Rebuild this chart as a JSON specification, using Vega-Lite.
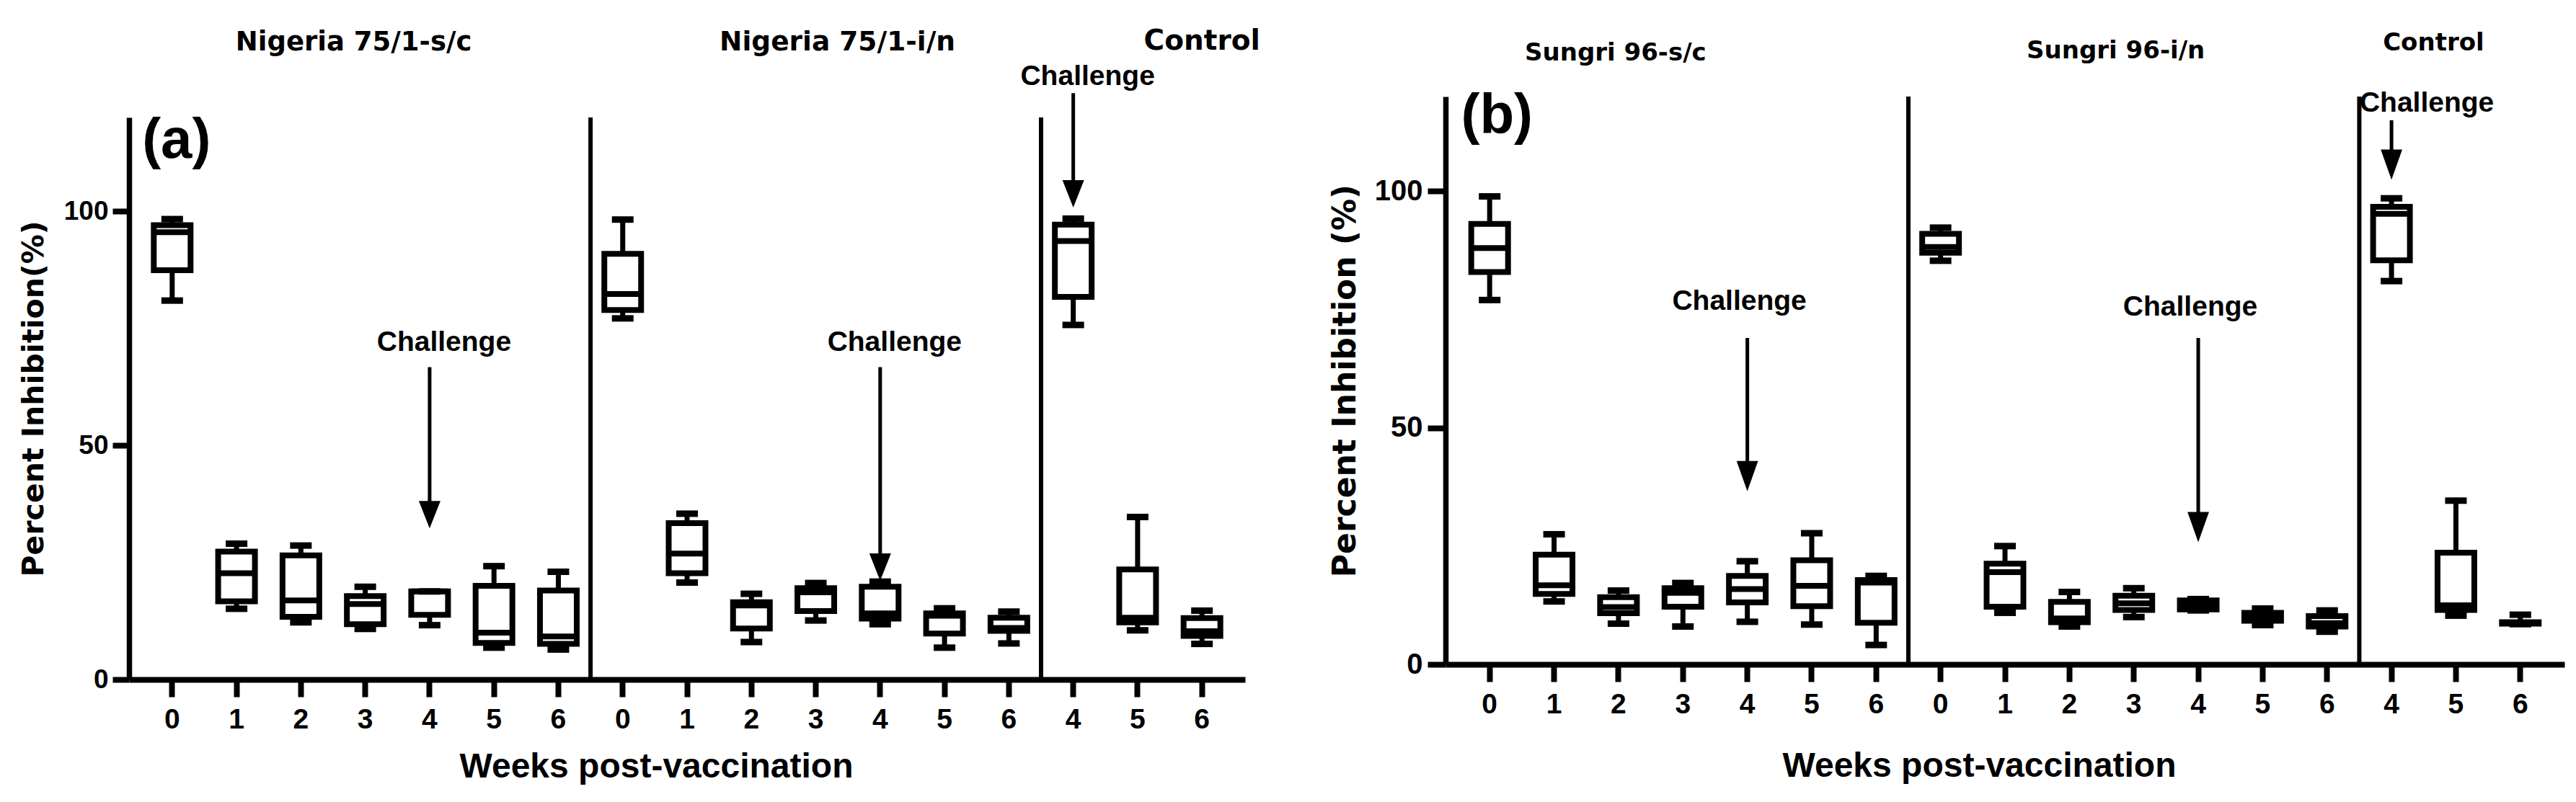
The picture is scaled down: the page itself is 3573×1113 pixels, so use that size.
{
  "$schema": "https://vega.github.io/schema/vega-lite/v6.json",
  "background": "white",
  "padding": {"left": 26, "top": 38, "right": 10, "bottom": 10},
  "config": {"view": {"stroke": null}, "font": "Liberation Sans"},
  "datasets": {
    "boxA": [
      {"key": "sc0", "min": 80.9, "q1": 87.4, "med": 95.5, "q3": 97.0, "max": 98.3},
      {"key": "sc1", "min": 15.1, "q1": 16.7, "med": 22.7, "q3": 27.3, "max": 29.0},
      {"key": "sc2", "min": 12.2, "q1": 13.4, "med": 16.9, "q3": 26.5, "max": 28.6},
      {"key": "sc3", "min": 10.8, "q1": 11.8, "med": 16.1, "q3": 17.8, "max": 19.8},
      {"key": "sc4", "min": 11.6, "q1": 13.8, "med": 18.8, "q3": 18.8, "max": 18.8},
      {"key": "sc5", "min": 6.8, "q1": 7.8, "med": 10.0, "q3": 20.0, "max": 24.2},
      {"key": "sc6", "min": 6.4, "q1": 7.6, "med": 9.2, "q3": 19.0, "max": 23.0},
      {"key": "in0", "min": 77.1, "q1": 78.9, "med": 82.3, "q3": 90.9, "max": 98.2},
      {"key": "in1", "min": 20.7, "q1": 22.7, "med": 26.9, "q3": 33.4, "max": 35.4},
      {"key": "in2", "min": 8.0, "q1": 10.9, "med": 15.8, "q3": 16.5, "max": 18.3},
      {"key": "in3", "min": 12.6, "q1": 14.6, "med": 18.6, "q3": 19.5, "max": 20.6},
      {"key": "in4", "min": 11.8, "q1": 13.0, "med": 14.1, "q3": 19.8, "max": 20.9},
      {"key": "in5", "min": 6.8, "q1": 9.8, "med": 13.6, "q3": 14.1, "max": 15.2},
      {"key": "in6", "min": 7.7, "q1": 10.4, "med": 11.0, "q3": 13.2, "max": 14.5},
      {"key": "c4", "min": 75.7, "q1": 81.7, "med": 93.6, "q3": 97.1, "max": 98.4},
      {"key": "c5", "min": 10.5, "q1": 12.2, "med": 13.2, "q3": 23.5, "max": 34.7},
      {"key": "c6", "min": 7.6, "q1": 9.3, "med": 10.3, "q3": 13.1, "max": 14.7}
    ],
    "boxB": [
      {"key": "sc0", "min": 77.0, "q1": 82.9, "med": 88.0, "q3": 93.1, "max": 98.9},
      {"key": "sc1", "min": 13.3, "q1": 14.9, "med": 16.7, "q3": 23.2, "max": 27.5},
      {"key": "sc2", "min": 8.6, "q1": 10.8, "med": 12.1, "q3": 14.2, "max": 15.6},
      {"key": "sc3", "min": 8.0, "q1": 12.2, "med": 15.1, "q3": 16.1, "max": 17.2},
      {"key": "sc4", "min": 9.0, "q1": 13.1, "med": 15.9, "q3": 18.7, "max": 21.8},
      {"key": "sc5", "min": 8.4, "q1": 12.3, "med": 16.6, "q3": 22.0, "max": 27.7},
      {"key": "sc6", "min": 4.1, "q1": 8.8, "med": 17.3, "q3": 17.8, "max": 18.7},
      {"key": "in0", "min": 85.3, "q1": 87.0, "med": 88.2, "q3": 91.0, "max": 92.3},
      {"key": "in1", "min": 10.9, "q1": 12.2, "med": 19.5, "q3": 21.3, "max": 25.0},
      {"key": "in2", "min": 8.0, "q1": 8.9, "med": 9.7, "q3": 13.2, "max": 15.3},
      {"key": "in3", "min": 10.0, "q1": 11.5, "med": 12.9, "q3": 14.5, "max": 16.1},
      {"key": "in4", "min": 11.4, "q1": 11.6, "med": 12.5, "q3": 13.5, "max": 13.8},
      {"key": "in5", "min": 8.3, "q1": 9.2, "med": 10.0, "q3": 10.9, "max": 11.8},
      {"key": "in6", "min": 6.9, "q1": 8.0, "med": 8.7, "q3": 10.2, "max": 11.4},
      {"key": "c4", "min": 81.0, "q1": 85.4, "med": 95.2, "q3": 96.7, "max": 98.5},
      {"key": "c5", "min": 10.3, "q1": 11.5, "med": 12.5, "q3": 23.6, "max": 34.6},
      {"key": "c6", "min": 8.5, "q1": 8.6, "med": 8.7, "q3": 8.9, "max": 10.5}
    ],
    "arrowA": [
      {"key": "sc4", "top": 66.7, "head": 35.2, "labelY": 72.0, "label": "Challenge", "grp": "vac"},
      {"key": "in4", "top": 66.7, "head": 24.0, "labelY": 72.0, "label": "Challenge", "grp": "vac"},
      {"key": "c4", "top": 125.2, "head": 103.7, "labelY": 128.7, "label": "Challenge", "grp": "ctl"}
    ],
    "arrowB": [
      {"key": "sc4", "top": 69.0, "head": 39.8, "labelY": 76.8, "label": "Challenge", "grp": "vac"},
      {"key": "in4", "top": 69.0, "head": 29.0, "labelY": 75.6, "label": "Challenge", "grp": "vac"},
      {"key": "c4", "top": 115.0, "head": 105.6, "labelY": 118.7, "label": "Challenge", "grp": "ctl"}
    ],
    "titleA": [
      {"key": "sc3", "y": 136.0, "label": "Nigeria 75/1-s/c"},
      {"key": "in3", "y": 136.0, "label": "Nigeria 75/1-i/n"},
      {"key": "c6", "y": 136.3, "label": "Control"},
      {"key": "sc0", "y": 115.0, "label": "(a)"}
    ],
    "titleB": [
      {"key": "sc2", "y": 129.1, "label": "Sungri 96-s/c"},
      {"key": "in3", "y": 129.6, "label": "Sungri 96-i/n"},
      {"key": "c5", "y": 131.3, "label": "Control"},
      {"key": "sc0", "y": 115.8, "label": "(b)"}
    ],
    "dividers": [{"key": "sc6"}, {"key": "in6"}]
  },
  "spacing": 96,
  "hconcat": [
    {
      "width": 1548,
      "height": 809,
      "layer": [
        {
          "data": {"name": "boxA"},
          "mark": {"type": "rule", "color": "black", "strokeWidth": 7},
          "encoding": {
            "x": {"field": "key", "type": "nominal",
              "scale": {"domain": ["sc0","sc1","sc2","sc3","sc4","sc5","sc6","in0","in1","in2","in3","in4","in5","in6","c4","c5","c6"], "paddingInner": 0, "paddingOuter": 0.17},
              "axis": {"title": "Weeks post-vaccination", "titleFont": "Liberation Sans", "titleFontSize": 48, "titleFontWeight": "bold", "titleColor": "black", "titlePadding": 22, "titleX": 731,
                "labelExpr": "substring(datum.value, length(datum.value) - 1)", "labelAngle": 0, "labelFont": "Liberation Sans", "labelFontSize": 39, "labelFontWeight": "bold", "labelColor": "black", "labelPadding": 12,
                "tickSize": 24, "tickWidth": 8, "tickColor": "black", "domainWidth": 8, "domainColor": "black", "grid": false}},
            "y": {"field": "min", "type": "quantitative",
              "scale": {"domain": [0, 120], "nice": false, "range": [809, 29]},
              "axis": {"title": "Percent Inhibition(%)", "titleFont": "DejaVu Sans", "titleFontSize": 41, "titleFontWeight": "bold", "titleColor": "black", "titlePadding": 20,
                "values": [0, 50, 100], "labelFlush": false, "labelFont": "Liberation Sans", "labelFontSize": 37, "labelFontWeight": "bold", "labelColor": "black", "labelPadding": 6,
                "tickSize": 23, "tickWidth": 8, "tickColor": "black", "domainWidth": 7.5, "domainColor": "black", "grid": false}},
            "y2": {"field": "max"}
          }
        },
        {
          "data": {"name": "boxA"},
          "mark": {"type": "bar", "fill": "white", "stroke": "black", "strokeWidth": 8, "size": 51},
          "encoding": {
            "x": {"field": "key", "type": "nominal"},
            "y": {"field": "q1", "type": "quantitative"},
            "y2": {"field": "q3"}
          }
        },
        {
          "data": {"name": "boxA"},
          "mark": {"type": "tick", "color": "black", "opacity": 1, "size": 51, "thickness": 8},
          "encoding": {
            "x": {"field": "key", "type": "nominal"},
            "y": {"field": "med", "type": "quantitative"}
          }
        },
        {
          "data": {"name": "boxA"},
          "mark": {"type": "tick", "color": "black", "opacity": 1, "size": 30, "thickness": 9},
          "encoding": {
            "x": {"field": "key", "type": "nominal"},
            "y": {"field": "min", "type": "quantitative"}
          }
        },
        {
          "data": {"name": "boxA"},
          "mark": {"type": "tick", "color": "black", "opacity": 1, "size": 30, "thickness": 9},
          "encoding": {
            "x": {"field": "key", "type": "nominal"},
            "y": {"field": "max", "type": "quantitative"}
          }
        },
        {
          "data": {"name": "dividers"},
          "mark": {"type": "rule", "color": "black", "strokeWidth": 6},
          "encoding": {
            "x": {"field": "key", "type": "nominal", "bandPosition": 1},
            "y": {"datum": 0, "type": "quantitative"},
            "y2": {"datum": 120}
          }
        },
        {
          "data": {"name": "arrowA"},
          "mark": {"type": "rule", "color": "black", "strokeWidth": 5},
          "encoding": {
            "x": {"field": "key", "type": "nominal"},
            "y": {"field": "top", "type": "quantitative"},
            "y2": {"field": "head"}
          }
        },
        {
          "data": {"name": "arrowA"},
          "mark": {"type": "point", "shape": "M-0.79,-1L0.79,-1L0,1Z", "filled": true, "color": "black", "opacity": 1, "size": 1444, "strokeWidth": 0},
          "encoding": {
            "x": {"field": "key", "type": "nominal"},
            "y": {"field": "head", "type": "quantitative"}
          }
        },
        {
          "data": {"name": "arrowA"},
          "mark": {"type": "text", "font": "Liberation Sans", "fontWeight": "bold", "fontSize": 39, "color": "black", "baseline": "middle", "align": "center", "dx": 20},
          "encoding": {
            "x": {"field": "key", "type": "nominal"},
            "y": {"field": "labelY", "type": "quantitative"},
            "text": {"field": "label"}
          }
        },
        {
          "data": {"name": "titleA"},
          "transform": [{"filter": "datum.label == 'Nigeria 75/1-s/c'"}],
          "mark": {"type": "text", "font": "DejaVu Sans", "fontWeight": "bold", "fontSize": 37, "color": "black", "baseline": "middle", "align": "center", "dx": -16},
          "encoding": {
            "x": {"field": "key", "type": "nominal"},
            "y": {"field": "y", "type": "quantitative"},
            "text": {"field": "label"}
          }
        },
        {
          "data": {"name": "titleA"},
          "transform": [{"filter": "datum.label == 'Nigeria 75/1-i/n'"}],
          "mark": {"type": "text", "font": "DejaVu Sans", "fontWeight": "bold", "fontSize": 37.5, "color": "black", "baseline": "middle", "align": "center", "dx": 30},
          "encoding": {
            "x": {"field": "key", "type": "nominal"},
            "y": {"field": "y", "type": "quantitative"},
            "text": {"field": "label"}
          }
        },
        {
          "data": {"name": "titleA"},
          "transform": [{"filter": "datum.label == 'Control'"}],
          "mark": {"type": "text", "font": "DejaVu Sans", "fontWeight": "bold", "fontSize": 39, "color": "black", "baseline": "middle", "align": "center"},
          "encoding": {
            "x": {"field": "key", "type": "nominal"},
            "y": {"field": "y", "type": "quantitative"},
            "text": {"field": "label"}
          }
        },
        {
          "data": {"name": "titleA"},
          "transform": [{"filter": "datum.label == '(a)'"}],
          "mark": {"type": "text", "font": "Liberation Sans", "fontWeight": "bold", "fontSize": 78, "color": "black", "baseline": "middle", "align": "center", "dx": 6},
          "encoding": {
            "x": {"field": "key", "type": "nominal"},
            "y": {"field": "y", "type": "quantitative"},
            "text": {"field": "label"}
          }
        }
      ]
    },
    {
      "width": 1552,
      "height": 788,
      "layer": [
        {
          "data": {"name": "boxB"},
          "mark": {"type": "rule", "color": "black", "strokeWidth": 7},
          "encoding": {
            "x": {"field": "key", "type": "nominal",
              "scale": {"domain": ["sc0","sc1","sc2","sc3","sc4","sc5","sc6","in0","in1","in2","in3","in4","in5","in6","c4","c5","c6"], "paddingInner": 0, "paddingOuter": 0.185},
              "axis": {"title": "Weeks post-vaccination", "titleFont": "Liberation Sans", "titleFontSize": 48, "titleFontWeight": "bold", "titleColor": "black", "titlePadding": 42, "titleX": 740,
                "labelExpr": "substring(datum.value, length(datum.value) - 1)", "labelAngle": 0, "labelFont": "Liberation Sans", "labelFontSize": 39, "labelFontWeight": "bold", "labelColor": "black", "labelPadding": 12,
                "tickSize": 24, "tickWidth": 8, "tickColor": "black", "domainWidth": 8, "domainColor": "black", "grid": false}},
            "y": {"field": "min", "type": "quantitative",
              "scale": {"domain": [0, 120], "nice": false},
              "axis": {"title": "Percent Inhibition (%)", "titleFont": "DejaVu Sans", "titleFontSize": 44, "titleFontWeight": "bold", "titleColor": "black", "titlePadding": 18,
                "values": [0, 50, 100], "labelFlush": false, "labelFont": "Liberation Sans", "labelFontSize": 40, "labelFontWeight": "bold", "labelColor": "black", "labelPadding": 7,
                "tickSize": 25, "tickWidth": 8, "tickColor": "black", "domainWidth": 7.5, "domainColor": "black", "grid": false}},
            "y2": {"field": "max"}
          }
        },
        {
          "data": {"name": "boxB"},
          "mark": {"type": "bar", "fill": "white", "stroke": "black", "strokeWidth": 8, "size": 51},
          "encoding": {
            "x": {"field": "key", "type": "nominal"},
            "y": {"field": "q1", "type": "quantitative"},
            "y2": {"field": "q3"}
          }
        },
        {
          "data": {"name": "boxB"},
          "mark": {"type": "tick", "color": "black", "opacity": 1, "size": 51, "thickness": 8},
          "encoding": {
            "x": {"field": "key", "type": "nominal"},
            "y": {"field": "med", "type": "quantitative"}
          }
        },
        {
          "data": {"name": "boxB"},
          "mark": {"type": "tick", "color": "black", "opacity": 1, "size": 30, "thickness": 9},
          "encoding": {
            "x": {"field": "key", "type": "nominal"},
            "y": {"field": "min", "type": "quantitative"}
          }
        },
        {
          "data": {"name": "boxB"},
          "mark": {"type": "tick", "color": "black", "opacity": 1, "size": 30, "thickness": 9},
          "encoding": {
            "x": {"field": "key", "type": "nominal"},
            "y": {"field": "max", "type": "quantitative"}
          }
        },
        {
          "data": {"name": "dividers"},
          "mark": {"type": "rule", "color": "black", "strokeWidth": 6},
          "encoding": {
            "x": {"field": "key", "type": "nominal", "bandPosition": 1},
            "y": {"datum": 0, "type": "quantitative"},
            "y2": {"datum": 120}
          }
        },
        {
          "data": {"name": "arrowB"},
          "mark": {"type": "rule", "color": "black", "strokeWidth": 5},
          "encoding": {
            "x": {"field": "key", "type": "nominal"},
            "y": {"field": "top", "type": "quantitative"},
            "y2": {"field": "head"}
          }
        },
        {
          "data": {"name": "arrowB"},
          "mark": {"type": "point", "shape": "M-0.71,-1L0.71,-1L0,1Z", "filled": true, "color": "black", "opacity": 1, "size": 1764, "strokeWidth": 0},
          "encoding": {
            "x": {"field": "key", "type": "nominal"},
            "y": {"field": "head", "type": "quantitative"}
          }
        },
        {
          "data": {"name": "arrowB"},
          "transform": [{"filter": "datum.grp == 'vac'"}],
          "mark": {"type": "text", "font": "Liberation Sans", "fontWeight": "bold", "fontSize": 39, "color": "black", "baseline": "middle", "align": "center", "dx": -11},
          "encoding": {
            "x": {"field": "key", "type": "nominal"},
            "y": {"field": "labelY", "type": "quantitative"},
            "text": {"field": "label"}
          }
        },
        {
          "data": {"name": "arrowB"},
          "transform": [{"filter": "datum.grp == 'ctl'"}],
          "mark": {"type": "text", "font": "Liberation Sans", "fontWeight": "bold", "fontSize": 39, "color": "black", "baseline": "middle", "align": "center", "dx": 49},
          "encoding": {
            "x": {"field": "key", "type": "nominal"},
            "y": {"field": "labelY", "type": "quantitative"},
            "text": {"field": "label"}
          }
        },
        {
          "data": {"name": "titleB"},
          "transform": [{"filter": "datum.label == 'Sungri 96-s/c'"}],
          "mark": {"type": "text", "font": "DejaVu Sans", "fontWeight": "bold", "fontSize": 34, "color": "black", "baseline": "middle", "align": "center", "dx": -4},
          "encoding": {
            "x": {"field": "key", "type": "nominal"},
            "y": {"field": "y", "type": "quantitative"},
            "text": {"field": "label"}
          }
        },
        {
          "data": {"name": "titleB"},
          "transform": [{"filter": "datum.label == 'Sungri 96-i/n'"}],
          "mark": {"type": "text", "font": "DejaVu Sans", "fontWeight": "bold", "fontSize": 34, "color": "black", "baseline": "middle", "align": "center", "dx": -25},
          "encoding": {
            "x": {"field": "key", "type": "nominal"},
            "y": {"field": "y", "type": "quantitative"},
            "text": {"field": "label"}
          }
        },
        {
          "data": {"name": "titleB"},
          "transform": [{"filter": "datum.label == 'Control'"}],
          "mark": {"type": "text", "font": "DejaVu Sans", "fontWeight": "bold", "fontSize": 34, "color": "black", "baseline": "middle", "align": "center", "dx": -31},
          "encoding": {
            "x": {"field": "key", "type": "nominal"},
            "y": {"field": "y", "type": "quantitative"},
            "text": {"field": "label"}
          }
        },
        {
          "data": {"name": "titleB"},
          "transform": [{"filter": "datum.label == '(b)'"}],
          "mark": {"type": "text", "font": "Liberation Sans", "fontWeight": "bold", "fontSize": 78, "color": "black", "baseline": "middle", "align": "center", "dx": 10},
          "encoding": {
            "x": {"field": "key", "type": "nominal"},
            "y": {"field": "y", "type": "quantitative"},
            "text": {"field": "label"}
          }
        }
      ]
    }
  ]
}
